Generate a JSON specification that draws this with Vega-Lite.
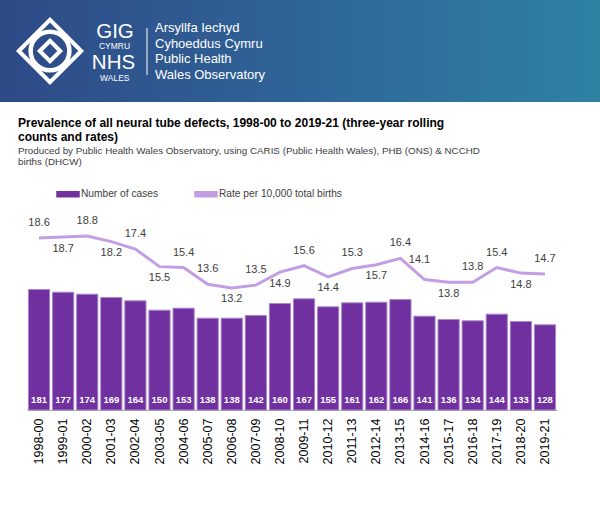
{
  "$schema": "https://vega.github.io/schema/vega-lite/v6.json",
  "padding": 0,
  "spacing": 15,
  "background": "white",
  "config": {"view": {"stroke": null}, "font": "Liberation Sans"},
  "resolve": {"scale": {"color": "independent"}, "legend": {"color": "independent"}},
  "datasets": {
    "births": [
      {"period": "1998-00", "cases": 181, "rate": 18.6},
      {"period": "1999-01", "cases": 177, "rate": 18.7},
      {"period": "2000-02", "cases": 174, "rate": 18.8},
      {"period": "2001-03", "cases": 169, "rate": 18.2},
      {"period": "2002-04", "cases": 164, "rate": 17.4},
      {"period": "2003-05", "cases": 150, "rate": 15.5},
      {"period": "2004-06", "cases": 153, "rate": 15.4},
      {"period": "2005-07", "cases": 138, "rate": 13.6},
      {"period": "2006-08", "cases": 138, "rate": 13.2},
      {"period": "2007-09", "cases": 142, "rate": 13.5},
      {"period": "2008-10", "cases": 160, "rate": 14.9},
      {"period": "2009-11", "cases": 167, "rate": 15.6},
      {"period": "2010-12", "cases": 155, "rate": 14.4},
      {"period": "2011-13", "cases": 161, "rate": 15.3},
      {"period": "2012-14", "cases": 162, "rate": 15.7},
      {"period": "2013-15", "cases": 166, "rate": 16.4},
      {"period": "2014-16", "cases": 141, "rate": 14.1},
      {"period": "2015-17", "cases": 136, "rate": 13.8},
      {"period": "2016-18", "cases": 134, "rate": 13.8},
      {"period": "2017-19", "cases": 144, "rate": 15.4},
      {"period": "2018-20", "cases": 133, "rate": 14.8},
      {"period": "2019-21", "cases": 128, "rate": 14.7}
    ]
  },
  "vconcat": [
    {
      "width": 600,
      "height": 102,
      "view": {
        "stroke": null,
        "fill": {
          "gradient": "linear", "x1": 0, "y1": 0, "x2": 1, "y2": 0,
          "stops": [
            {"offset": 0, "color": "#2e4a86"},
            {"offset": 0.5, "color": "#2f6498"},
            {"offset": 1, "color": "#2e82a2"}
          ]
        }
      },
      "layer": [
        {
          "data": {"values": [{"block": "knot"}]},
          "mark": {"type": "point", "shape": "circle", "size": 1500, "filled": false, "stroke": "white", "strokeWidth": 4.5, "opacity": 1},
          "encoding": {
            "x": {"field": "block", "type": "nominal", "scale": {"type": "point", "domain": ["knot", "wordmark", "name"], "range": [50, 155], "padding": 0}, "axis": null}
          }
        },
        {
          "data": {"values": [{"block": "knot"}]},
          "mark": {"type": "point", "shape": "diamond", "size": 3900, "filled": false, "stroke": "white", "strokeWidth": 4, "opacity": 1},
          "encoding": {"x": {"field": "block", "type": "nominal"}}
        },
        {
          "data": {"values": [{"block": "knot"}]},
          "mark": {"type": "point", "shape": "diamond", "size": 420, "filled": false, "stroke": "white", "strokeWidth": 4, "opacity": 1},
          "encoding": {"x": {"field": "block", "type": "nominal"}}
        },
        {
          "data": {"values": [{"block": "wordmark", "line": 1, "label": "GIG"}]},
          "mark": {"type": "text", "fontSize": 20.5, "fill": "white", "align": "center", "baseline": "middle", "dx": 12.5, "dy": 3.5, "letterSpacing": 4.6},
          "encoding": {
            "x": {"field": "block", "type": "nominal"},
            "y": {"field": "line", "type": "ordinal", "scale": {"type": "point", "domain": [1, 2, 3, 4], "range": [28, 75], "padding": 0}, "axis": null},
            "text": {"field": "label"}
          }
        },
        {
          "data": {"values": [{"block": "wordmark", "line": 2, "label": "CYMRU"}]},
          "mark": {"type": "text", "fontSize": 8.5, "fill": "white", "align": "center", "baseline": "middle", "dx": 12, "dy": 2.2, "letterSpacing": 3.6},
          "encoding": {
            "x": {"field": "block", "type": "nominal"},
            "y": {"field": "line", "type": "ordinal"},
            "text": {"field": "label"}
          }
        },
        {
          "data": {"values": [{"block": "wordmark", "line": 3, "label": "NHS"}]},
          "mark": {"type": "text", "fontSize": 20.5, "fill": "white", "align": "center", "baseline": "middle", "dx": 11, "dy": 3.5, "letterSpacing": 1.6},
          "encoding": {
            "x": {"field": "block", "type": "nominal"},
            "y": {"field": "line", "type": "ordinal"},
            "text": {"field": "label"}
          }
        },
        {
          "data": {"values": [{"block": "wordmark", "line": 4, "label": "WALES"}]},
          "mark": {"type": "text", "fontSize": 8.5, "fill": "white", "align": "center", "baseline": "middle", "dx": 12.3, "dy": 2.5, "letterSpacing": 3.9},
          "encoding": {
            "x": {"field": "block", "type": "nominal"},
            "y": {"field": "line", "type": "ordinal"},
            "text": {"field": "label"}
          }
        },
        {
          "data": {"values": [{"block": "name"}]},
          "mark": {"type": "rule", "stroke": "white", "strokeWidth": 1},
          "encoding": {
            "x": {"field": "block", "type": "nominal"},
            "xOffset": {"value": -8},
            "y": {"datum": 1, "type": "ordinal"},
            "y2": {"datum": 4}
          }
        },
        {
          "data": {"values": [
            {"block": "name", "line": 1, "label": "Arsyllfa Iechyd"},
            {"block": "name", "line": 2, "label": "Cyhoeddus Cymru"},
            {"block": "name", "line": 3, "label": "Public Health"},
            {"block": "name", "line": 4, "label": "Wales Observatory"}
          ]},
          "mark": {"type": "text", "fontSize": 13, "fill": "white", "align": "left", "baseline": "middle"},
          "encoding": {
            "x": {"field": "block", "type": "nominal"},
            "y": {"field": "line", "type": "ordinal"},
            "text": {"field": "label"}
          }
        }
      ]
    },
    {
      "width": 557,
      "height": 185,
      "title": {
        "text": ["Prevalence of all neural tube defects, 1998-00 to 2019-21 (three-year rolling", "counts and rates)"],
        "subtitle": ["Produced by Public Health Wales Observatory, using CARIS (Public Health Wales), PHB (ONS) & NCCHD", "births (DHCW)"],
        "anchor": "start",
        "frame": "group",
        "dx": 18,
        "offset": 14,
        "font": "Liberation Sans",
        "fontSize": 12,
        "fontWeight": "bold",
        "color": "black",
        "lineHeight": 14,
        "subtitleFont": "Liberation Sans",
        "subtitleFontSize": 9.8,
        "subtitleColor": "#404040",
        "subtitleLineHeight": 11,
        "subtitlePadding": 2
      },
      "data": {"name": "births"},
      "encoding": {
        "x": {
          "field": "period", "type": "nominal", "sort": null,
          "scale": {"paddingInner": 0.12, "paddingOuter": 0.06, "range": [27, 557]},
          "axis": {"title": null, "labelAngle": -90, "labelFontSize": 12.5, "labelColor": "black", "labelFont": "Liberation Sans", "ticks": false, "domainColor": "#a6a6a6", "domainWidth": 1, "labelPadding": 8, "grid": false}
        }
      },
      "layer": [
        {
          "mark": {"type": "bar", "stroke": "#a986c9", "strokeWidth": 1},
          "encoding": {
            "y": {"field": "cases", "type": "quantitative", "scale": {"domain": [0, 278]}, "axis": null},
            "color": {
              "datum": "Number of cases",
              "scale": {"domain": ["Number of cases", "Rate per 10,000 total births"], "range": ["#7030a0", "#c49ee4"]},
              "legend": {
                "orient": "none", "legendX": 56, "legendY": -43, "direction": "horizontal", "title": null,
                "symbolType": "M-1,-0.22H1V0.22H-1Z",
                "symbolSize": 484, "labelFontSize": 10.2, "labelFont": "Liberation Sans", "labelColor": "#404040", "labelOffset": 1, "columnPadding": 33, "padding": 0,
                "encode": {
                  "symbols": {
                    "update": {
                      "shape": {"signal": "datum.value === 'Number of cases' ? 'M-1,-0.22H1V0.22H-1Z' : 'M-1,-0.13H1V0.13H-1Z'"},
                      "fill": {"signal": "datum.value === 'Number of cases' ? '#7030a0' : '#c49ee4'"},
                      "stroke": {"value": "transparent"},
                      "strokeWidth": {"value": 0},
                      "opacity": {"value": 1}
                    }
                  }
                }
              }
            }
          }
        },
        {
          "mark": {"type": "text", "fill": "white", "fontWeight": "bold", "fontSize": 9.5, "baseline": "middle", "dy": -10},
          "encoding": {
            "y": {"datum": 0, "type": "quantitative", "scale": {"domain": [0, 278]}, "axis": null},
            "text": {"field": "cases", "type": "quantitative"}
          }
        },
        {
          "mark": {"type": "line", "strokeWidth": 3},
          "encoding": {
            "y": {"field": "rate", "type": "quantitative", "scale": {"domain": [0, 20]}, "axis": null},
            "color": {"datum": "Rate per 10,000 total births"}
          }
        },
        {
          "transform": [{"filter": "indexof(['1999-01','2001-03','2003-05','2006-08','2008-10','2010-12','2012-14','2015-17','2018-20','2014-16'], datum.period) < 0"}],
          "mark": {"type": "text", "fontSize": 11, "fill": "#404040", "baseline": "middle", "dy": -15},
          "encoding": {
            "y": {"field": "rate", "type": "quantitative", "scale": {"domain": [0, 20]}, "axis": null},
            "text": {"field": "rate", "type": "quantitative", "format": ".1f"}
          }
        },
        {
          "transform": [{"filter": "indexof(['1999-01','2001-03','2003-05','2006-08','2008-10','2010-12','2012-14','2015-17','2018-20'], datum.period) >= 0"}],
          "mark": {"type": "text", "fontSize": 11, "fill": "#404040", "baseline": "middle", "dy": 11.5},
          "encoding": {
            "y": {"field": "rate", "type": "quantitative", "scale": {"domain": [0, 20]}, "axis": null},
            "text": {"field": "rate", "type": "quantitative", "format": ".1f"}
          }
        },
        {
          "transform": [{"filter": "datum.period === '2014-16'"}],
          "mark": {"type": "text", "fontSize": 11, "fill": "#404040", "baseline": "middle", "dy": -20, "dx": -5},
          "encoding": {
            "y": {"field": "rate", "type": "quantitative", "scale": {"domain": [0, 20]}, "axis": null},
            "text": {"field": "rate", "type": "quantitative", "format": ".1f"}
          }
        }
      ],
      "resolve": {"scale": {"y": "independent"}}
    }
  ]
}
